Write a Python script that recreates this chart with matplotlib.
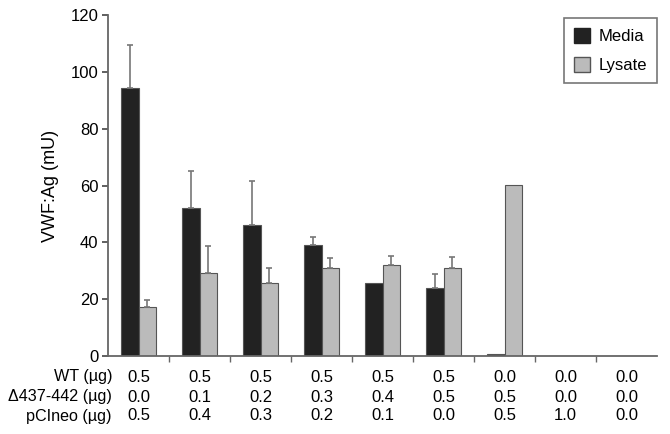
import matplotlib
matplotlib.use("Agg")
import matplotlib.pyplot as plt
import numpy as np
from matplotlib.patches import Patch
from matplotlib.transforms import blended_transform_factory

plt.rcParams['font.family'] = ['Liberation Sans', 'DejaVu Sans']

wt = ["0.5", "0.5", "0.5", "0.5", "0.5", "0.5", "0.0", "0.0", "0.0"]
mut = ["0.0", "0.1", "0.2", "0.3", "0.4", "0.5", "0.5", "0.0", "0.0"]
pci = ["0.5", "0.4", "0.3", "0.2", "0.1", "0.0", "0.5", "1.0", "0.0"]
row_labels = ["WT (µg)", "Δ437-442 (µg)", "pCIneo (µg)"]

media = [94.2, 52.2, 46.0, 39.1, 25.6, 23.8, 0.8, 0.0, 0.0]
media_err = [15.2, 12.8, 15.5, 2.8, 0.0, 5.1, 0.0, 0.0, 0.0]
lysate = [17.1, 29.3, 25.8, 31.0, 32.0, 31.1, 60.2, 0.0, 0.0]
lysate_err = [2.6, 9.4, 5.0, 3.4, 3.3, 3.7, 0.0, 0.0, 0.0]

fig = plt.figure(figsize=(6.7, 4.34), dpi=100)
ax = fig.add_axes([108/670, 1-356/434, (657-108)/670, (356-15)/434])

n = len(media)
x = np.arange(n)
w = 0.295
edge = '#555555'
ax.bar(x - w/2, media, w, color='#222222', edgecolor=edge, linewidth=0.8, label='Media')
ax.bar(x + w/2, lysate, w, color='#bbbbbb', edgecolor=edge, linewidth=0.8, label='Lysate')
for xi, v, e in zip(x - w/2, media, media_err):
    if e > 0:
        ax.errorbar(xi, v, yerr=[[0], [e]], fmt='none', ecolor='#777777', elinewidth=1.2, capsize=2.5, capthick=1.2)
for xi, v, e in zip(x + w/2, lysate, lysate_err):
    if e > 0:
        ax.errorbar(xi, v, yerr=[[0], [e]], fmt='none', ecolor='#777777', elinewidth=1.2, capsize=2.5, capthick=1.2)

ax.set_xlim(-0.5, n - 0.5)
ax.set_ylim(0, 120)
ax.set_yticks(np.arange(0, 121, 20))
ax.set_xticks(np.arange(0.5, n - 0.5, 1.0))
ax.set_xticklabels([])
ax.tick_params(axis='x', direction='out', length=4, color='#666666', width=1)
ax.tick_params(axis='y', direction='out', length=4, color='#444444', width=1.2, labelsize=12, pad=3)
for s in ['top', 'right']:
    ax.spines[s].set_visible(False)
for s in ['left', 'bottom']:
    ax.spines[s].set_color('#666666')
    ax.spines[s].set_linewidth(1.3)
ax.set_ylabel('VWF:Ag (mU)', fontsize=13, labelpad=8)

trans = blended_transform_factory(ax.transData, fig.transFigure)
rows_y = [1-377/434, 1-397/434, 1-416/434]
for ry, lab, vals in zip(rows_y, row_labels, [wt, mut, pci]):
    fig.text(112/670, ry, lab, ha='right', va='center', fontsize=11.6)
    for xi, v in zip(x, vals):
        ax.text(xi, ry, v, transform=trans, ha='center', va='center', fontsize=12)

handles = [Patch(facecolor='#222222', edgecolor='#222222'), Patch(facecolor='#bbbbbb', edgecolor='#555555')]
leg = ax.legend(handles, ['Media', 'Lysate'], loc='upper right', bbox_to_anchor=(1.0, 0.991),
                borderaxespad=0, frameon=True, fancybox=False, fontsize=12, handlelength=1.0,
                handleheight=1.0, labelspacing=0.75, borderpad=0.6, handletextpad=0.5)
leg.get_frame().set_edgecolor('#555555')
leg.get_frame().set_linewidth(1.2)

fig.savefig('out.png', dpi=100)
